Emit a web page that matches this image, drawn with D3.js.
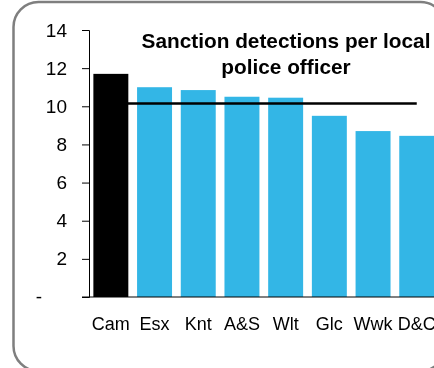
<!DOCTYPE html>
<html>
<head>
<meta charset="utf-8">
<script src="https://cdn.jsdelivr.net/npm/d3@7"></script>
<style>
  html, body { margin: 0; padding: 0; background: #fff; }
  svg { display: block; font-family: Arial, "Liberation Sans", sans-serif; }
</style>
</head>
<body>
<div id="chart"></div>
<script>
// data
const categories = ['Cam', 'Esx', 'Knt', 'A&S', 'Wlt', 'Glc', 'Wwk', 'D&C'];
const detections = [11.7, 11.0, 10.85, 10.5, 10.45, 9.5, 8.7, 8.45];
const average = [10.15, 10.15, 10.15, 10.15, 10.15, 10.15, 10.15, 10.15];
const yTicks = [0, 2, 4, 6, 8, 10, 12, 14];
const titleLines = ['Sanction detections per local', 'police officer'];

const width = 434;
const height = 368;

const svg = d3
  .select('#chart')
  .append('svg')
  .attr('width', width)
  .attr('height', height);

// rounded frame, runs off the right and bottom edge
svg
  .append('rect')
  .attr('x', 13.5)
  .attr('y', 2)
  .attr('width', 432)
  .attr('height', 369)
  .attr('rx', 25)
  .attr('fill', 'none')
  .attr('stroke', '#7f7f7f')
  .attr('stroke-width', 2.5);

const x = d3.scaleBand().domain(categories).range([89, 438.6]).paddingInner(0.2).paddingOuter(0.1);
const y = d3.scaleLinear().domain([0, 14]).range([297, 30]);

// bars
svg
  .append('g')
  .selectAll('rect')
  .data(categories)
  .join('rect')
  .attr('x', d => x(d))
  .attr('y', (d, i) => y(detections[i]))
  .attr('width', x.bandwidth())
  .attr('height', (d, i) => y(0) - y(detections[i]))
  .attr('fill', (d, i) => (i === 0 ? '#000000' : '#33b6e6'));

// average line
const line = d3
  .line()
  .x((d, i) => x(categories[i]) + x.bandwidth() / 2)
  .y(d => y(d));

svg
  .append('path')
  .datum(average)
  .attr('d', line)
  .attr('fill', 'none')
  .attr('stroke', '#000')
  .attr('stroke-width', 2.5);

// y axis
const yAxis = d3
  .axisLeft(y)
  .tickValues(yTicks)
  .tickSize(7)
  .tickPadding(15)
  .tickFormat(d => (d === 0 ? '' : d));

const gy = svg.append('g').attr('transform', 'translate(89,0)').call(yAxis);
gy.select('.domain').attr('stroke', '#000').attr('stroke-width', 1);
gy.selectAll('.tick line').attr('stroke', '#000');
gy.selectAll('.tick text')
  .attr('fill', '#000')
  .attr('font-size', 19)
  .attr('font-family', 'Arial, "Liberation Sans", sans-serif');

// zero shown as a dash
svg
  .append('text')
  .attr('x', 39)
  .attr('y', y(0))
  .attr('dy', '0.32em')
  .attr('text-anchor', 'middle')
  .attr('font-size', 19)
  .text('-');

// x axis line, greyed over the bars
svg
  .append('line')
  .attr('x1', 82)
  .attr('x2', width)
  .attr('y1', y(0))
  .attr('y2', y(0))
  .attr('stroke', '#808080')
  .attr('stroke-width', 2)
  .style('mix-blend-mode', 'multiply');

// category labels
svg
  .append('g')
  .selectAll('text')
  .data(categories)
  .join('text')
  .attr('x', d => x(d) + x.bandwidth() / 2)
  .attr('y', 330)
  .attr('text-anchor', 'middle')
  .attr('font-size', 18)
  .attr('fill', '#000')
  .text(d => d);

// title
svg
  .append('text')
  .attr('text-anchor', 'middle')
  .attr('font-size', 20.8)
  .attr('font-weight', 'bold')
  .selectAll('tspan')
  .data(titleLines)
  .join('tspan')
  .attr('x', 286)
  .attr('y', (d, i) => 47.5 + i * 26.5)
  .text(d => d);
</script>
</body>
</html>
